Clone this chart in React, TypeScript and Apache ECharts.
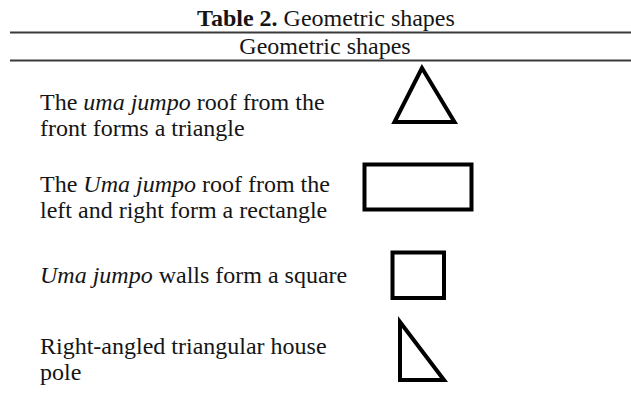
import React, { useEffect, useRef } from "react";
import * as echarts from "echarts";

// ---- content ----
const titleBold = "Table 2.";
const titleRest = " Geometric shapes";
const columnHeader = "Geometric shapes";
// rows: each line uses {i|...} for italic segments
const row1Lines = ["The {i|uma jumpo} roof from the", "front forms a triangle"];
const row2Lines = ["The {i|Uma jumpo} roof from the", "left and right form a rectangle"];
const row3Lines = ["{i|Uma jumpo} walls form a square"];
const row4Lines = ["Right-angled triangular house", "pole"];
const rowLines = [row1Lines, row2Lines, row3Lines, row4Lines];
const shapeKinds = ["triangle", "rectangle", "square", "rightTriangle"];

// ---- layout ----
const FONT = '"Liberation Serif", "Times New Roman", Times, serif';
const FS = 24;
const LINE_H = 26;
const TEXT_X = 40;
const rowFirstBaseline = [110, 192, 283, 354];
const TEXT_COLOR = "#151515";

function shapeElement(kind: string): any {
  const common = { stroke: "#000", lineWidth: 4, fill: "none", lineJoin: "miter" };
  if (kind === "triangle") {
    return { type: "polygon", shape: { points: [[422, 68], [394.5, 122], [454.5, 122]] }, style: common };
  }
  if (kind === "rectangle") {
    return { type: "rect", shape: { x: 364.5, y: 164.5, width: 107, height: 45 }, style: common };
  }
  if (kind === "square") {
    return { type: "rect", shape: { x: 392.5, y: 252.5, width: 51.5, height: 45.5 }, style: common };
  }
  return { type: "polygon", shape: { points: [[400, 322], [400, 380], [444, 380]] }, style: common };
}

export default function App() {
  const ref = useRef<HTMLDivElement>(null);
  useEffect(() => {
    if (!ref.current) return;
    const chart = echarts.init(ref.current, null, { renderer: "svg" });
    const rich = {
      i: { fontStyle: "italic", fontSize: FS, fontFamily: FONT, fill: TEXT_COLOR },
      b: { fontWeight: "bold", fontSize: FS, fontFamily: FONT, fill: TEXT_COLOR },
    };
    const elements: any[] = [];
    elements.push({
      type: "text",
      style: {
        text: `{b|${titleBold}}${titleRest}`,
        x: 326,
        y: 26 - 8,
        align: "center",
        verticalAlign: "middle",
        fontSize: FS,
        fontFamily: FONT,
        fill: TEXT_COLOR,
        rich,
      },
    });
    elements.push({
      type: "line",
      shape: { x1: 10, y1: 32.5, x2: 631, y2: 32.5 },
      style: { stroke: "#3a3a3a", lineWidth: 2 },
    });
    elements.push({
      type: "text",
      style: {
        text: columnHeader,
        x: 325,
        y: 54 - 8,
        align: "center",
        verticalAlign: "middle",
        fontSize: FS,
        fontFamily: FONT,
        fill: TEXT_COLOR,
      },
    });
    elements.push({
      type: "line",
      shape: { x1: 10, y1: 60.5, x2: 631, y2: 60.5 },
      style: { stroke: "#3a3a3a", lineWidth: 2 },
    });
    rowLines.forEach((lines, r) => {
      lines.forEach((ln, k) => {
        elements.push({
          type: "text",
          style: {
            text: ln,
            x: TEXT_X,
            y: rowFirstBaseline[r] + k * LINE_H - 8,
            align: "left",
            verticalAlign: "middle",
            fontSize: FS,
            fontFamily: FONT,
            fill: TEXT_COLOR,
            rich,
          },
        });
      });
      elements.push(shapeElement(shapeKinds[r]));
    });
    chart.setOption({
      animation: false,
      backgroundColor: "#ffffff",
      graphic: { elements },
    });
    return () => chart.dispose();
  }, []);
  return (
    <div
      ref={ref}
      style={{ position: "absolute", left: 0, top: 0, width: 631, height: 400 }}
    />
  );
}
